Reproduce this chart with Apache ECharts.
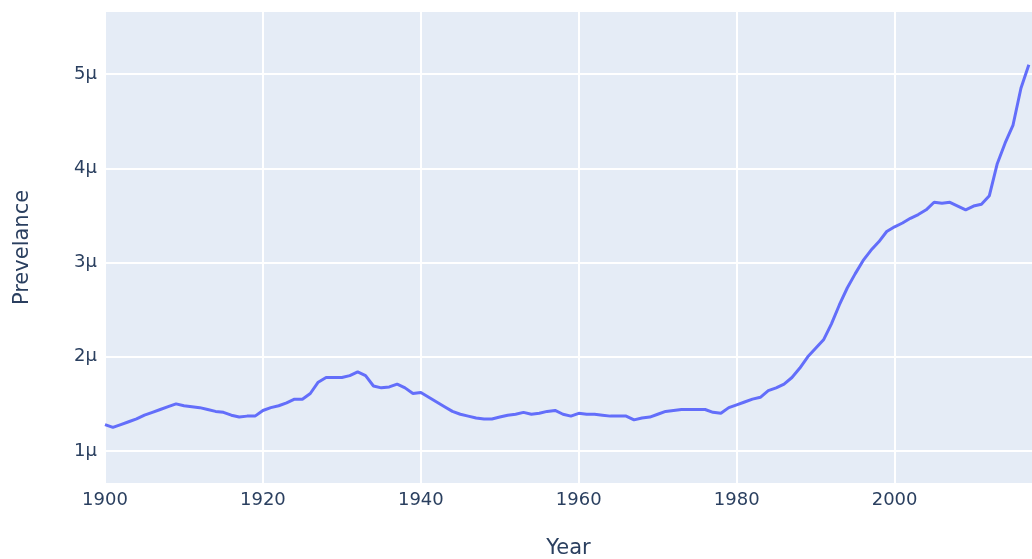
<!DOCTYPE html>
<html>
<head>
<meta charset="utf-8">
<script src="https://cdn.jsdelivr.net/npm/echarts@6/dist/echarts.min.js"></script>
<style>
html,body{margin:0;padding:0;background:#fff;}
#chart{width:1032px;height:559px;}
</style>
</head>
<body>
<div id="chart"></div>
<script>
const years = [1900,1901,1902,1903,1904,1905,1906,1907,1908,1909,1910,1911,1912,1913,1914,1915,1916,1917,1918,1919,
1920,1921,1922,1923,1924,1925,1926,1927,1928,1929,1930,1931,1932,1933,1934,1935,1936,1937,1938,1939,
1940,1941,1942,1943,1944,1945,1946,1947,1948,1949,1950,1951,1952,1953,1954,1955,1956,1957,1958,1959,
1960,1961,1962,1963,1964,1965,1966,1967,1968,1969,1970,1971,1972,1973,1974,1975,1976,1977,1978,1979,
1980,1981,1982,1983,1984,1985,1986,1987,1988,1989,1990,1991,1992,1993,1994,1995,1996,1997,1998,1999,
2000,2001,2002,2003,2004,2005,2006,2007,2008,2009,2010,2011,2012,2013,2014,2015,2016,2017];
// prevalence in micro units (μ)
const prevalenceMicro = [1.28,1.25,1.28,1.31,1.34,1.38,1.41,1.44,1.47,1.50,1.48,1.47,1.46,1.44,1.42,1.41,1.38,1.36,1.37,1.37,
1.43,1.46,1.48,1.51,1.55,1.55,1.61,1.73,1.78,1.78,1.78,1.80,1.84,1.80,1.69,1.67,1.68,1.71,1.67,1.61,
1.62,1.57,1.52,1.47,1.42,1.39,1.37,1.35,1.34,1.34,1.36,1.38,1.39,1.41,1.39,1.40,1.42,1.43,1.39,1.37,
1.40,1.39,1.39,1.38,1.37,1.37,1.37,1.33,1.35,1.36,1.39,1.42,1.43,1.44,1.44,1.44,1.44,1.41,1.40,1.46,
1.49,1.52,1.55,1.57,1.64,1.67,1.71,1.78,1.88,2.00,2.09,2.18,2.35,2.55,2.73,2.88,3.02,3.13,3.22,3.33,
3.38,3.42,3.47,3.51,3.56,3.64,3.63,3.64,3.60,3.56,3.60,3.62,3.71,4.05,4.27,4.46,4.85,5.10];
const xTicks = [1900,1920,1940,1960,1980,2000];
const yTicks = [1,2,3,4,5];

const font = 'DejaVu Sans, Verdana, sans-serif';
const textColor = '#2a3f5f';

const chart = echarts.init(document.getElementById('chart'), null, {renderer:'canvas'});
chart.setOption({
  animation:false,
  grid:{left:105,right:0,top:12,bottom:76,show:true,backgroundColor:'#E5ECF6',borderWidth:0,containLabel:false,outerBoundsMode:'none'},
  xAxis:{
    type:'value',min:1900,max:2017.4,
    name:'Year',nameLocation:'middle',nameGap:55,
    nameTextStyle:{fontFamily:font,fontSize:21,color:textColor},
    axisLine:{show:false},
    axisTick:{show:false,customValues:xTicks},
    axisLabel:{customValues:xTicks,fontFamily:font,fontSize:18,color:textColor,margin:8,formatter:v=>String(v)},
    splitLine:{show:true,lineStyle:{color:'#ffffff',width:2}}
  },
  yAxis:{
    type:'value',min:0.66,max:5.66,
    name:'Prevelance',nameLocation:'middle',nameGap:72,
    nameTextStyle:{fontFamily:font,fontSize:21,color:textColor},
    axisLine:{show:false},
    axisTick:{show:false,customValues:yTicks},
    axisLabel:{customValues:yTicks,fontFamily:font,fontSize:18,color:textColor,margin:8,formatter:v=>v+'μ'},
    splitLine:{show:true,lineStyle:{color:'#ffffff',width:2}}
  },
  series:[{
    type:'line',
    data:years.map((y,i)=>[y,prevalenceMicro[i]]),
    showSymbol:false,
    lineStyle:{color:'#636efa',width:3},
    itemStyle:{color:'#636efa'},
    clip:true
  }]
});
</script>
</body>
</html>
